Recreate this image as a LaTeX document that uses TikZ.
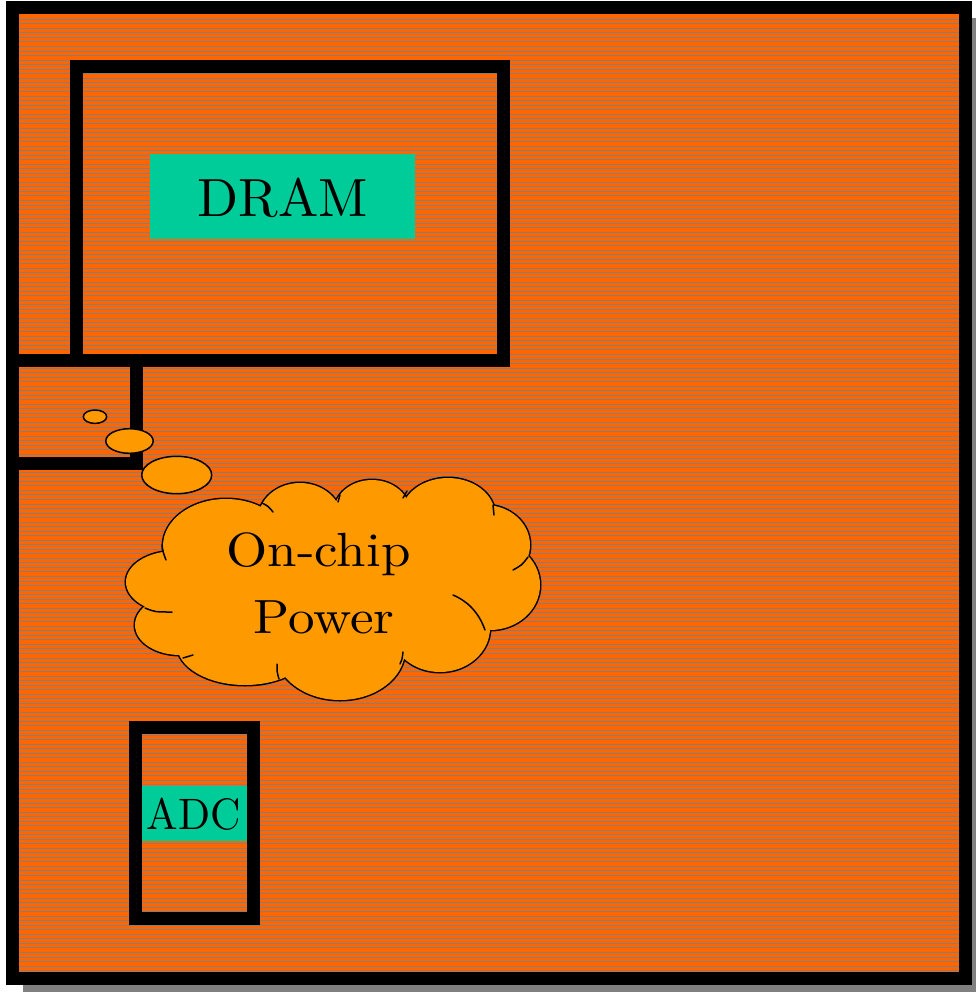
\documentclass[tikz,border=0pt]{standalone}
\usepackage{graphicx}
\definecolor{chipbg}{RGB}{255,102,0}
\definecolor{stripe}{RGB}{128,128,128}
\definecolor{shadowgray}{RGB}{128,128,128}
\definecolor{blockgreen}{RGB}{0,204,153}
\definecolor{cloudorange}{RGB}{255,153,0}
\tikzset{
  frameline/.style={draw=black,line width=6.5pt,line join=miter},
  stripeline/.style={draw=stripe,line width=0.5pt},
  greenblock/.style={fill=blockgreen,draw=none},
  bubble/.style={fill=cloudorange,draw=black,line width=0.75pt},
  puffout/.style={draw=black,line width=1.5pt},
  puffin/.style={fill=cloudorange,draw=none},
  hook/.style={draw=black,line width=0.75pt,line cap=round},
  label/.style={anchor=base,inner sep=0pt,text=black,font=\fontsize{10}{12}\selectfont}
}
\begin{document}
\begin{tikzpicture}[x=0.5pt,y=-0.5pt]
\useasboundingbox (0,0) rectangle (976,992);
% shadow
\fill[shadowgray] (23,18) rectangle (976,992);
% chip background
\fill[chipbg] (12.5,7.5) rectangle (965.5,978);
\foreach \yy in {19.3,23.83,...,975} {
  \draw[stripeline] (19,\yy) -- (959,\yy);
}
% frames
\draw[frameline] (12.5,7.5) rectangle (965.5,978);
\draw[frameline] (76.5,66.5) rectangle (503,360);
\draw[frameline] (12.5,360) rectangle (136,463.5);
\draw[frameline] (135.5,727.5) rectangle (253,918.5);
% green blocks
\fill[greenblock] (150,154) rectangle (415,239);
\fill[greenblock] (142,786) rectangle (247,841);
\node[label] (dram) at (282.5,216) {\scalebox{2.69}{DRAM}};
\node[label] (adc) at (193.5,829) {\scalebox{2.1}[2.2]{ADC}};
% thought bubbles
\draw[bubble] (95,416.7) ellipse [x radius=11.7, y radius=6.7];
\draw[bubble] (129.5,441) ellipse [x radius=23.7, y radius=12.3];
\draw[bubble] (176.7,475) ellipse [x radius=35, y radius=18.7];
% cloud: outlines then fills
\foreach \cx/\cy/\rx/\ry in {175/582/49/31, 180/625/45/30, 245/645/68/40, 340/650/65/50, 440/628/50/44, 490/585/50/45, 485/545/45/40, 448/515/47/37, 372/512/38/32, 300/520/42/37, 226/546/63/47} {
  \draw[puffout] (\cx,\cy) ellipse [x radius=\rx, y radius=\ry];
}
\foreach \cx/\cy/\rx/\ry in {175/582/49/31, 180/625/45/30, 245/645/68/40, 340/650/65/50, 440/628/50/44, 490/585/50/45, 485/545/45/40, 448/515/47/37, 372/512/38/32, 300/520/42/37, 226/546/63/47, 330/585/170/80} {
  \fill[puffin] (\cx,\cy) ellipse [x radius=\rx, y radius=\ry];
}
% inner hooks of the cloud
\draw[hook] (162,545) .. controls (163,552) .. (166,560);
\draw[hook] (145,608) .. controls (155,612) .. (172,612);
\draw[hook] (183,658) -- (193,655);
\draw[hook] (279,679) .. controls (277,672) .. (277,664);
\draw[hook] (400,664) .. controls (402,660) .. (403,652);
\draw[hook] (485,630) .. controls (478,610) and (465,600) .. (453,595);
\draw[hook] (528,557) .. controls (522,565) .. (513,570);
\draw[hook] (493,505) -- (494,515);
\draw[hook] (403,498) -- (407,491);
\draw[hook] (338,502) -- (340,495);
\draw[hook] (262,503) .. controls (268,506) .. (273,512);
\node[label] (onchip) at (318.5,566) {\scalebox{2.65}[2.4]{On-chip}};
\node[label] (power) at (324,633) {\scalebox{2.65}[2.4]{Power}};
\end{tikzpicture}
\end{document}
